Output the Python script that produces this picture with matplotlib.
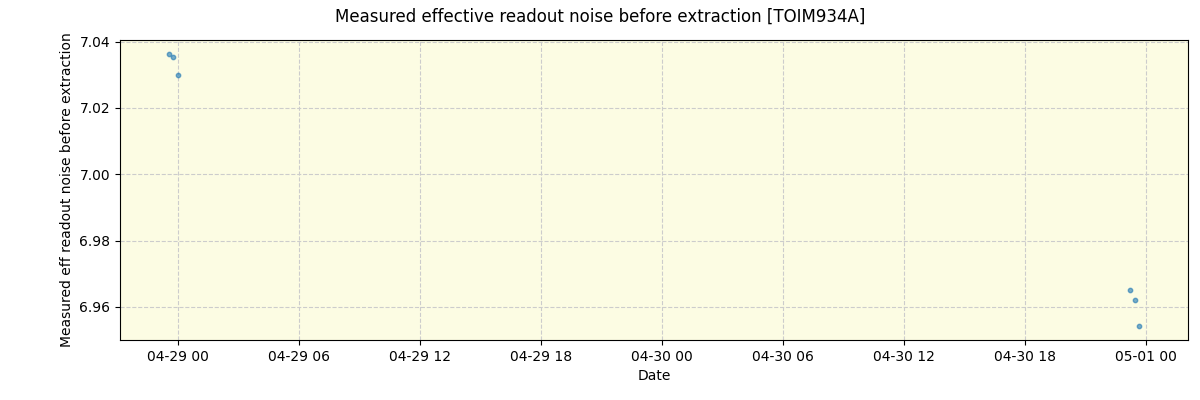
import matplotlib
matplotlib.use("Agg")
import matplotlib.pyplot as plt
import matplotlib.dates as mdates
import pandas as pd

times = ["2024-04-28 23:33", "2024-04-28 23:45", "2024-04-29 00:00",
         "2024-04-30 23:12", "2024-04-30 23:27", "2024-04-30 23:39"]
values = [7.0362, 7.0355, 7.0298, 6.9650, 6.9622, 6.9541]

t = pd.to_datetime(times)
fig, ax = plt.subplots(figsize=(12, 4), dpi=100)
fig.subplots_adjust(left=0.1, right=0.99, top=0.9, bottom=0.15)
ax.set_facecolor("#fcfce3")
ax.scatter(t, values, s=10, color="#1f77b4", alpha=0.6, zorder=3)
ax.set_xlim(pd.Timestamp("2024-04-28 21:07"), pd.Timestamp("2024-05-01 02:06"))
ax.set_ylim(6.950, 7.0405)
ax.xaxis.set_major_locator(mdates.HourLocator(byhour=[0, 6, 12, 18]))
ax.xaxis.set_major_formatter(mdates.DateFormatter("%m-%d %H"))
ax.grid(True, linestyle="--", color="#cccccc", zorder=0)
ax.set_xlabel("Date")
ax.set_ylabel("Measured eff readout noise before extraction")
fig.suptitle("Measured effective readout noise before extraction [TOIM934A]")
fig.savefig("out.png")
